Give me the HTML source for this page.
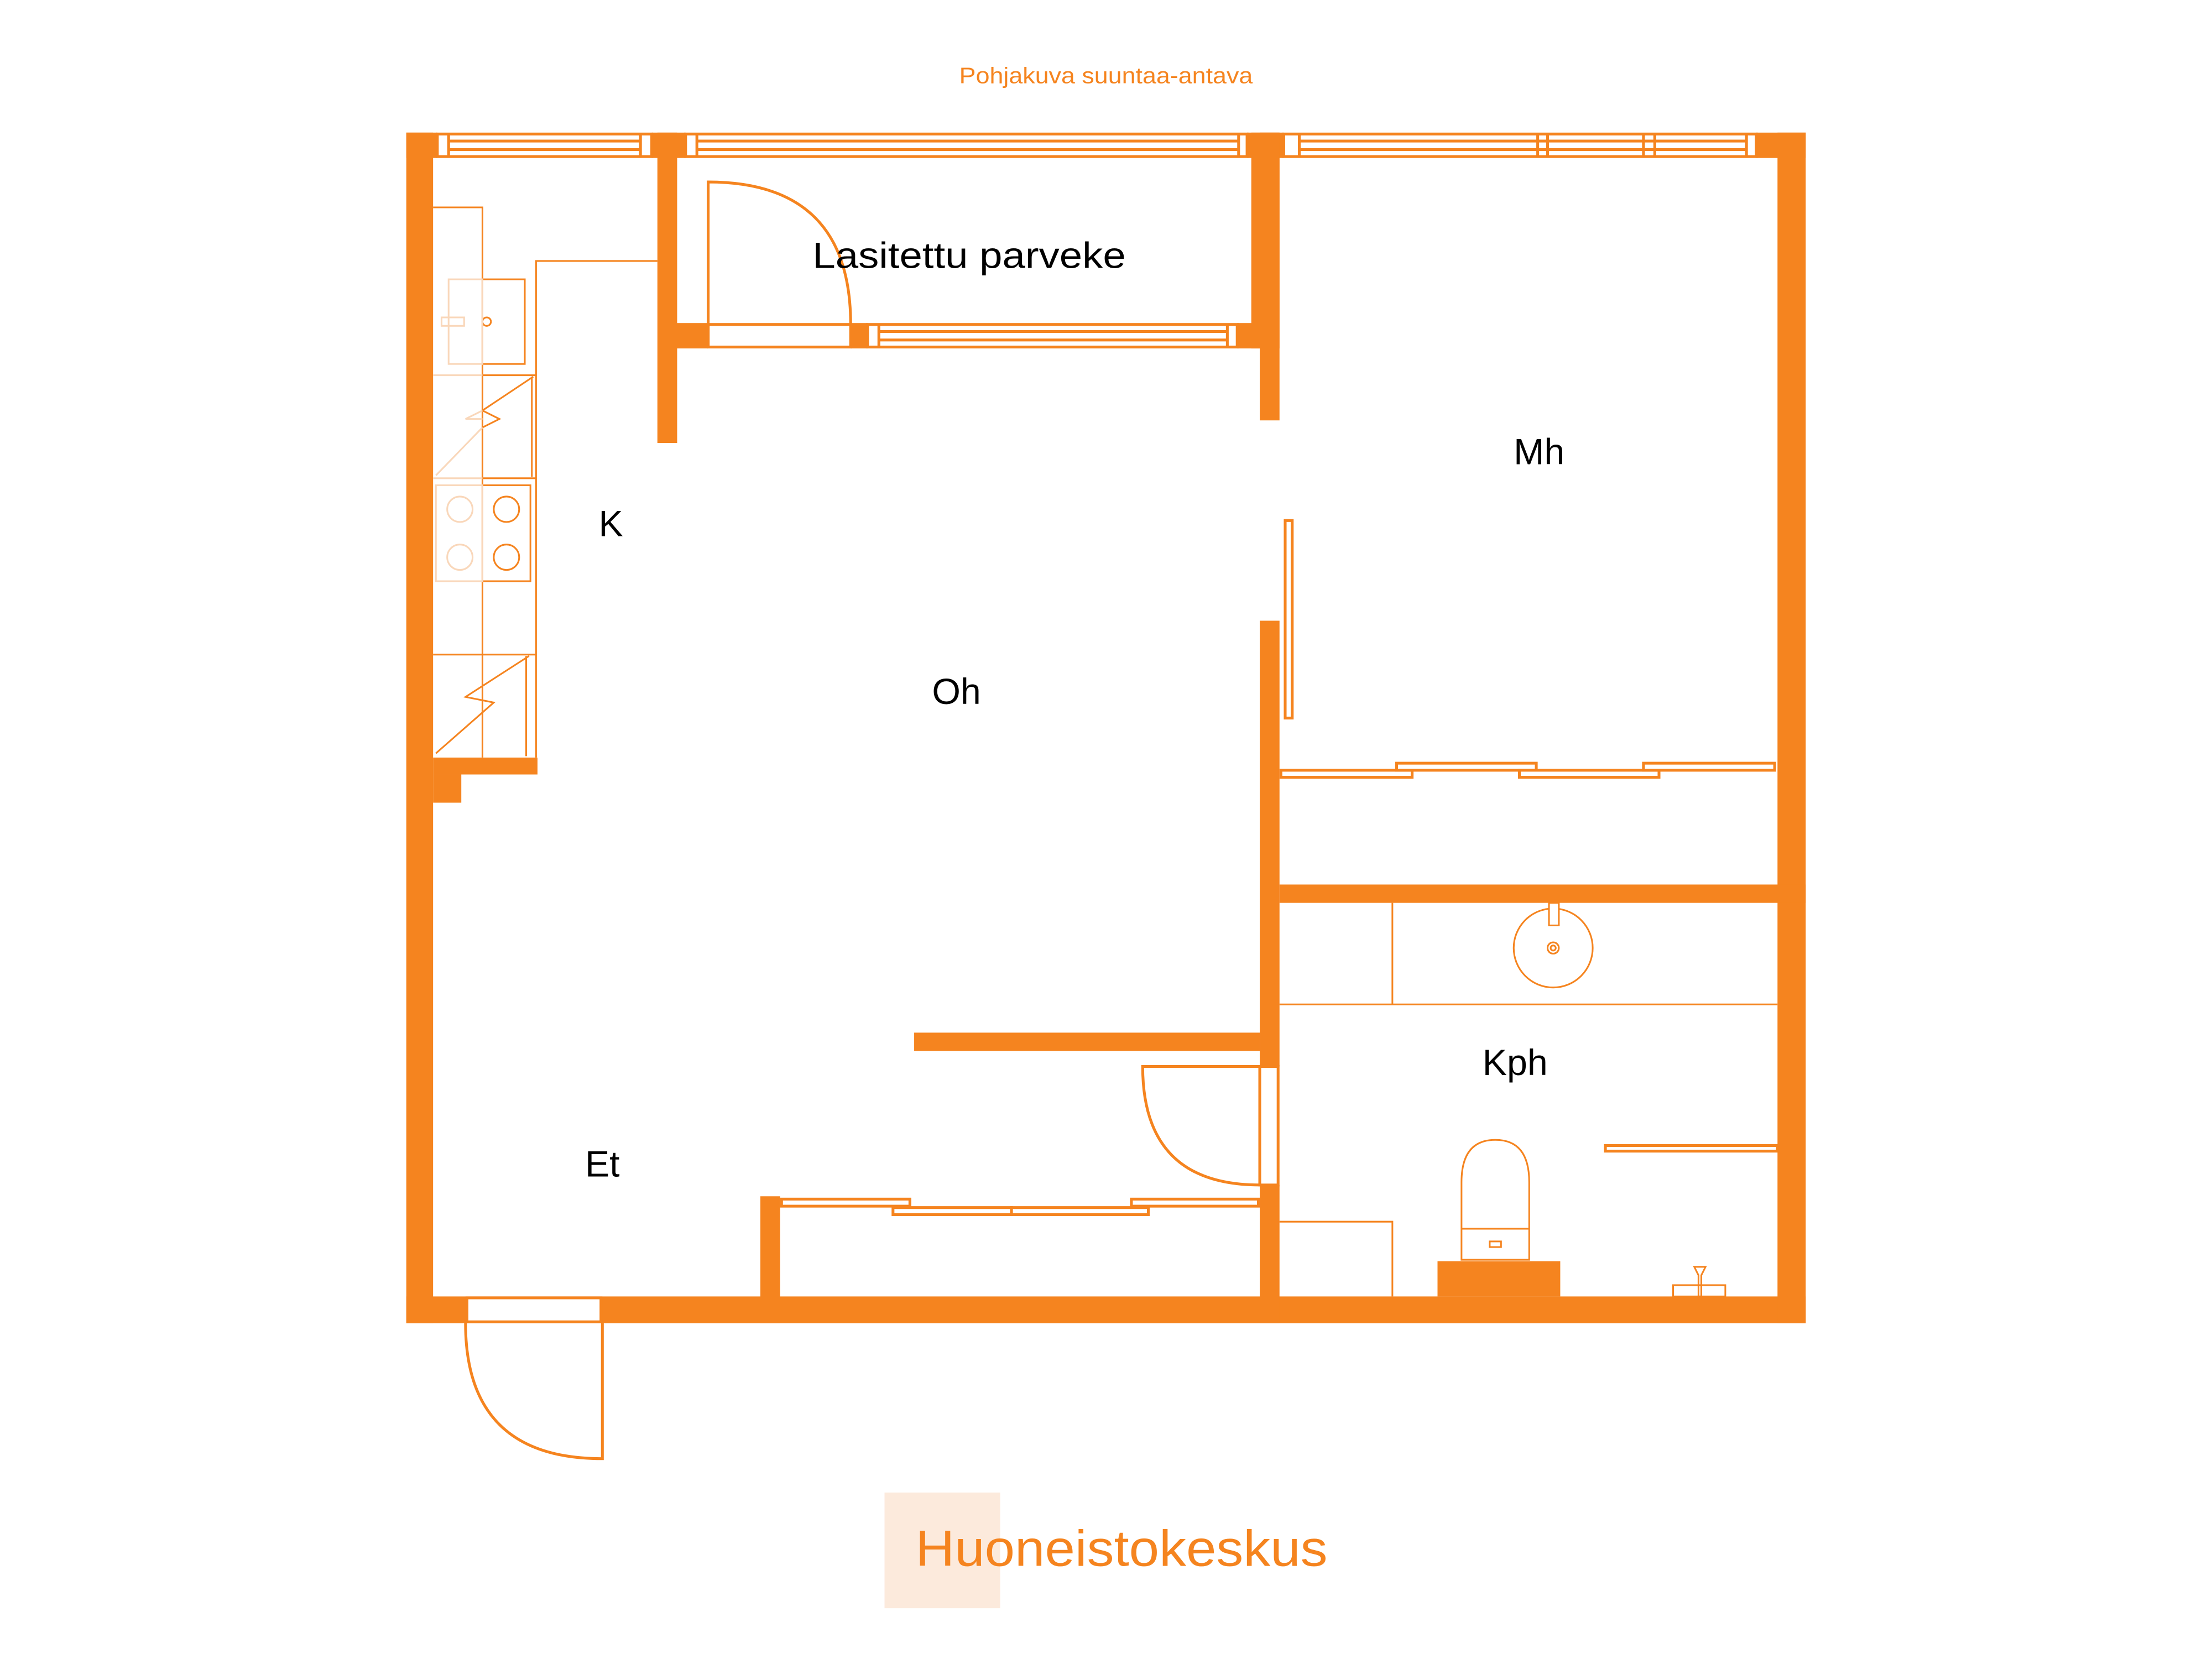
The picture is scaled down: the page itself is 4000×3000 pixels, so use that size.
<!DOCTYPE html>
<html><head><meta charset="utf-8"><style>
html,body{margin:0;padding:0;background:#fff;}
svg{display:block;}
</style></head><body>
<svg width="4000" height="3000" viewBox="0 0 1568 1176" xmlns="http://www.w3.org/2000/svg">
<g fill="#F5841F" stroke="none">
<rect x="288" y="94" width="19" height="844"/>
<rect x="288" y="919" width="992" height="19"/>
<rect x="1260" y="94" width="20" height="844"/>
<rect x="288" y="94" width="22" height="18"/>
<rect x="462" y="94" width="24" height="18"/>
<rect x="884" y="94" width="26" height="18"/>
<rect x="1245" y="94" width="35" height="18"/>
<rect x="466" y="94" width="14" height="220"/>
<rect x="480" y="229" width="22" height="18"/>
<rect x="603" y="229" width="12" height="18"/>
<rect x="877" y="229" width="16" height="18"/>
<rect x="887" y="94" width="20" height="153"/>
<rect x="893" y="94" width="14" height="204"/>
<rect x="893" y="440" width="14" height="316"/>
<rect x="893" y="840" width="14" height="98"/>
<rect x="907" y="627" width="373" height="13"/>
<rect x="307" y="537" width="74" height="12"/>
<rect x="307" y="549" width="20" height="20"/>
<rect x="648" y="732" width="245" height="13"/>
<rect x="539" y="848" width="14" height="90"/>
<rect x="1019" y="894" width="87" height="25"/>
</g>
<g fill="#fff" stroke="#F5841F" stroke-width="2">
<rect x="310" y="95" width="152" height="16"/>
<line x1="318" y1="100" x2="454" y2="100"/><line x1="318" y1="106" x2="454" y2="106"/>
<line x1="318" y1="95" x2="318" y2="111"/><line x1="454" y1="95" x2="454" y2="111"/>
<rect x="486" y="95" width="398" height="16"/>
<line x1="494" y1="100" x2="878" y2="100"/><line x1="494" y1="106" x2="878" y2="106"/>
<line x1="494" y1="95" x2="494" y2="111"/><line x1="878" y1="95" x2="878" y2="111"/>
<rect x="910" y="95" width="335" height="16"/>
<line x1="921" y1="100" x2="1238" y2="100"/><line x1="921" y1="106" x2="1238" y2="106"/>
<line x1="921" y1="95" x2="921" y2="111"/><line x1="1090" y1="95" x2="1090" y2="111"/><line x1="1097" y1="95" x2="1097" y2="111"/><line x1="1165" y1="95" x2="1165" y2="111"/><line x1="1173" y1="95" x2="1173" y2="111"/><line x1="1238" y1="95" x2="1238" y2="111"/>
<rect x="502" y="230" width="101" height="16"/>
<rect x="615" y="230" width="262" height="16"/>
<line x1="623" y1="235" x2="870" y2="235"/><line x1="623" y1="241" x2="870" y2="241"/>
<line x1="623" y1="230" x2="623" y2="246"/><line x1="870" y1="230" x2="870" y2="246"/>
<rect x="911" y="369" width="5" height="140"/>
<rect x="908" y="546" width="93" height="5"/>
<rect x="990" y="541" width="99" height="5"/>
<rect x="1077" y="546" width="99" height="5"/>
<rect x="1165" y="541" width="93" height="5"/>
<rect x="554" y="850" width="91" height="5"/>
<rect x="633" y="856" width="84" height="5"/>
<rect x="717" y="856" width="97" height="5"/>
<rect x="802" y="850" width="90" height="5"/>
<rect x="893" y="756" width="13" height="84"/>
<rect x="331" y="920" width="95" height="17"/>
<rect x="1138" y="812" width="122" height="4"/>
</g>
<g fill="none" stroke="#F5841F" stroke-width="2">
<path d="M502 245 V129 Q603 129 603 230"/>
<path d="M893 756 H810 Q810 840 893 840"/>
<path d="M427 938 V1034 Q330 1034 330 938"/>
</g>
<g fill="none" stroke="#F5841F" stroke-width="1.2">
<line x1="907" y1="712" x2="1260" y2="712"/>
<line x1="987" y1="640" x2="987" y2="712"/>
<circle cx="1101" cy="672" r="28"/>
<circle cx="1101" cy="672" r="4"/><circle cx="1101" cy="672" r="1.8"/>
<rect x="1098" y="640" width="7" height="16" fill="#fff"/>
<path d="M1036 893 V838 Q1036 808 1060 808 Q1084 808 1084 838 V893 Z"/>
<line x1="1036" y1="871" x2="1084" y2="871"/>
<rect x="1056" y="880" width="8" height="4"/>
<path d="M907 866 H987 V919"/>
<rect x="1186" y="911" width="37" height="8"/>
<path d="M1201 898 h8 l-3 6 v15 h-2 v-15 z"/>
<path d="M307 147 H342 V537"/>
<path d="M466 185 H380 V537"/>
<line x1="342" y1="266" x2="380" y2="266"/>
<line x1="342" y1="339" x2="380" y2="339"/>
<rect x="342" y="198" width="30" height="60"/>
<circle cx="345" cy="228" r="3"/>
<path d="M378 267 L342 291 L354 297 L342 303"/>
<line x1="377" y1="267" x2="377" y2="338"/>
<rect x="342" y="344" width="34" height="68"/>
<circle cx="359" cy="361" r="9"/><circle cx="359" cy="395" r="9"/>
<line x1="342" y1="464" x2="380" y2="464"/>
<line x1="307" y1="464" x2="342" y2="464"/>
<path d="M375 465 L330 494 L350 498 L309 534"/>
<line x1="373" y1="465" x2="373" y2="536"/>
</g>
<g fill="none" stroke="#F9D7BA" stroke-width="1.2">
<rect x="318" y="198" width="24" height="60"/>
<rect x="313" y="225" width="16" height="6"/>
<line x1="307" y1="266" x2="342" y2="266"/>
<line x1="307" y1="339" x2="342" y2="339"/>
<path d="M342 291 L330 297 L342 297 M342 303 L309 337"/>
<rect x="309" y="344" width="33" height="68"/>
<circle cx="326" cy="361" r="9"/><circle cx="326" cy="395" r="9"/>
</g>
<g font-family="Liberation Sans, sans-serif" fill="#000" font-size="26" text-anchor="middle">
<text x="687" y="190" textLength="222" lengthAdjust="spacingAndGlyphs">Lasitettu parveke</text>
<text x="433" y="380">K</text>
<text x="678" y="499">Oh</text>
<text x="1091" y="329">Mh</text>
<text x="1074" y="762">Kph</text>
<text x="427" y="834">Et</text>
</g>
<text x="680" y="59" font-family="Liberation Sans, sans-serif" font-size="16" fill="#F5841F" textLength="208" lengthAdjust="spacingAndGlyphs">Pohjakuva suuntaa-antava</text>
<rect x="627" y="1058" width="82" height="82" fill="#FCEADC"/>
<text x="649" y="1110" font-family="Liberation Sans, sans-serif" font-size="36" fill="#F5841F" textLength="292" lengthAdjust="spacingAndGlyphs">Huoneistokeskus</text>
</svg>
</body></html>
